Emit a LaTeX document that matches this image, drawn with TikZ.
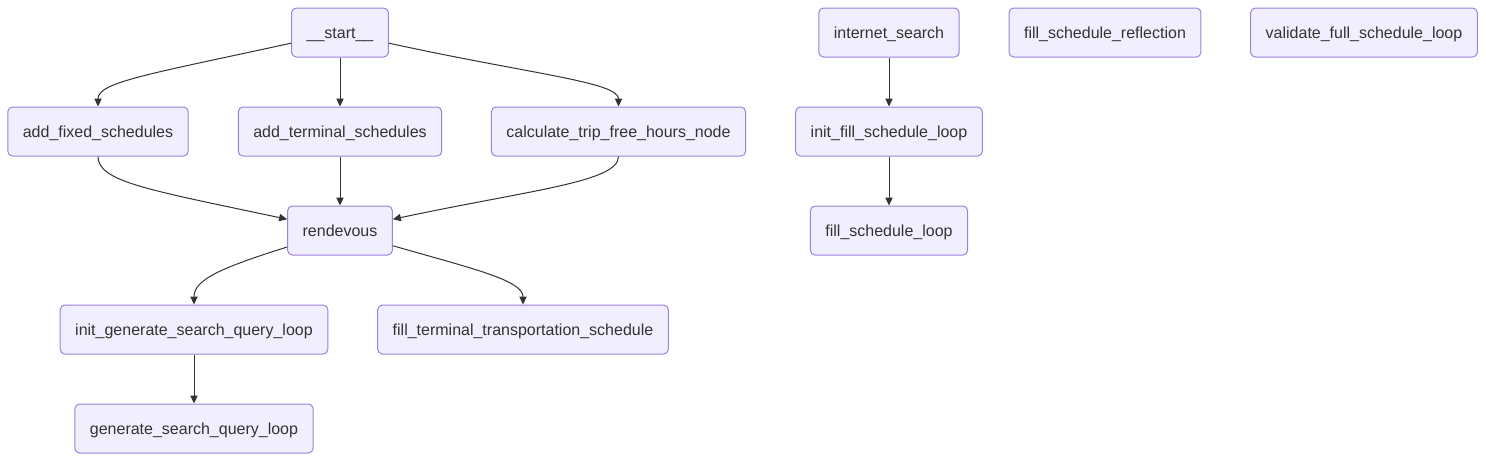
\documentclass[tikz,border=0pt]{standalone}
\usepackage{fontspec}
\setmainfont{Liberation Sans}
\usetikzlibrary{arrows.meta,positioning}
\definecolor{boxfill}{HTML}{F1EFFE}
\definecolor{boxline}{HTML}{9E7FE0}
\definecolor{ink}{HTML}{333333}

\begin{document}
\begin{tikzpicture}[x=0.75pt, y=-0.75pt,
    box/.style={draw=boxline, fill=boxfill, line width=0.75pt, rounded corners=3.5pt,
                minimum height=36.75pt, inner xsep=11.25pt, text height=10.5pt, text depth=2.25pt,
                text=ink, font=\fontsize{12pt}{14pt}\selectfont},
    edge/.style={draw=ink, line width=0.75pt, -{Triangle[length=6pt,width=5.5pt]}}]

  \useasboundingbox (0,0) rectangle (1486,462);

  % main branch
  \node[box] (start)    at (340,32.5)    {\_\_start\_\_};
  \node[box] (fixed)    at (98,131.5)    {add\_fixed\_schedules};
  \node[box] (terminal) at (340,131.5)   {add\_terminal\_schedules};
  \node[box] (freehrs)  at (618.5,131.5) {calculate\_trip\_free\_hours\_node};
  \node[box] (rend)     at (340,230.5)   {rendevous};
  \node[box] (initgen)  at (194,329.5)   {init\_generate\_search\_query\_loop};
  \node[box] (fillterm) at (523,329.5)   {fill\_terminal\_transportation\_schedule};
  \node[box] (genloop)  at (194,428.5)   {generate\_search\_query\_loop};

  % second branch and lone nodes
  \node[box] (search)   at (889,32.5)    {internet\_search};
  \node[box] (initfill) at (889,131.5)   {init\_fill\_schedule\_loop};
  \node[box] (fillloop) at (889,230.5)   {fill\_schedule\_loop};
  \node[box] (reflect)  at (1105,32.5)   {fill\_schedule\_reflection};
  \node[box] (validate) at (1364,32.5)   {validate\_full\_schedule\_loop};

  \draw[edge] (start) .. controls (150,74) and (98,82) .. (fixed.north);
  \draw[edge] (start) -- (terminal);
  \draw[edge] (start) .. controls (530,74) and (618.5,82) .. (freehrs.north);

  \draw[edge] (fixed.south) .. controls (98,182) and (150,190) .. (rend);
  \draw[edge] (terminal) -- (rend);
  \draw[edge] (freehrs.south) .. controls (618.5,182) and (530,190) .. (rend);

  \draw[edge] (rend) .. controls (220,268) and (194,280) .. (initgen.north);
  \draw[edge] (rend) .. controls (470,268) and (523,280) .. (fillterm.north);
  \draw[edge] (initgen) -- (genloop);

  \draw[edge] (search) -- (initfill);
  \draw[edge] (initfill) -- (fillloop);
\end{tikzpicture}
\end{document}
